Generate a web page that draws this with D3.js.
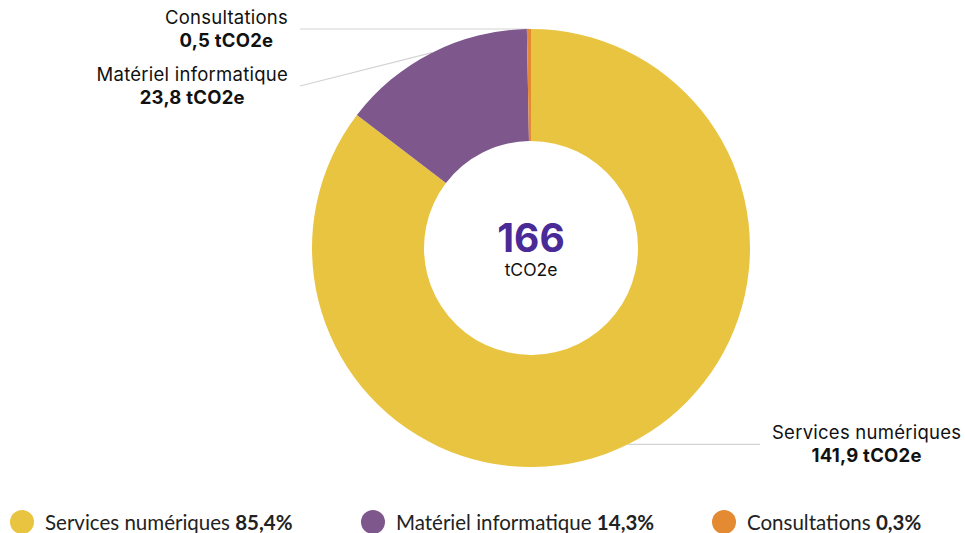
<!DOCTYPE html>
<html>
<head>
<meta charset="utf-8">
<script src="https://cdn.jsdelivr.net/npm/d3@7"></script>
<style>
  html, body { margin: 0; padding: 0; background: #fff; overflow: hidden; }
  svg { display: block; }
</style>
</head>
<body>
<svg id="chart" width="965" height="533"></svg>
<script>
// data
var categories = ["Services numériques", "Matériel informatique", "Consultations"];
var values = [141.9, 23.8, 0.5];
var shares = ["85,4%", "14,3%", "0,3%"];
var colors = ["#E9C441", "#7E578C", "#E38A33"];
var totalLabel = "166";
var unit = "tCO2e";

var svg = d3.select("#chart"),
    cx = 531, cy = 248,
    outerR = 219, innerR = 107;

var data = categories.map(function(c, i) { return {name: c, value: values[i], color: colors[i], share: shares[i]}; });

var pie = d3.pie().sort(null).value(function(d) { return d.value; });
var arc = d3.arc().innerRadius(innerR).outerRadius(outerR);
var arcs = pie(data);

var g = svg.append("g").attr("transform", "translate(" + cx + "," + cy + ")");

var fmt = function(v) { return d3.format(".1f")(v).replace(".", ","); };
var labelFont = "Inter, 'Noto Sans', sans-serif";

// label anchor points on the outer edge, left ones pushed down so they don't overlap
var labels = arcs.map(function(a) {
  var mid = (a.startAngle + a.endAngle) / 2;
  var px = outerR * Math.sin(mid), py = -outerR * Math.cos(mid);
  var right = px > 0;
  return {a: a, px: px, py: py, right: right, lx: right ? 229 : -231, ly: py};
});
var lastLeftY = -Infinity;
labels.filter(function(l) { return !l.right; })
  .sort(function(a, b) { return a.py - b.py; })
  .forEach(function(l) {
    l.ly = Math.max(l.py, lastLeftY + 57);
    lastLeftY = l.ly;
  });

// leader lines go under the slices
g.selectAll("polyline.leader")
  .data(labels)
  .enter().append("polyline")
    .attr("class", "leader")
    .attr("fill", "none")
    .attr("stroke", "#d3d3d3")
    .attr("stroke-width", 1.2)
    .attr("points", function(l) { return l.px + "," + l.py + " " + l.lx + "," + l.ly; });

g.selectAll("path.slice")
  .data(arcs)
  .enter().append("path")
    .attr("class", "slice")
    .attr("d", arc)
    .attr("fill", function(d) { return d.data.color; });

var lab = g.selectAll("g.lab")
  .data(labels)
  .enter().append("g")
    .attr("class", "lab")
    .attr("font-family", labelFont)
    .attr("font-size", 18.5)
    .attr("letter-spacing", 0.25)
    .attr("fill", "#111")
    .attr("text-anchor", "middle");

lab.append("text")
  .attr("y", function(l) { return l.ly - 5; })
  .text(function(l) { return l.a.data.name; });
lab.append("text")
  .attr("y", function(l) { return l.ly + 18; })
  .attr("font-weight", 700)
  .text(function(l) { return fmt(l.a.data.value) + " " + unit; });

lab.each(function(l) {
  var sel = d3.select(this);
  var w = 0;
  sel.selectAll("text").each(function() { w = Math.max(w, this.getComputedTextLength()); });
  var x = l.right ? l.lx + 12 + w / 2 : l.lx - 12 - w / 2;
  sel.selectAll("text").attr("x", x);
});

// centre total
g.append("text")
  .attr("text-anchor", "middle")
  .attr("y", 4)
  .attr("font-family", labelFont)
  .attr("font-weight", 700)
  .attr("font-size", 39)
  .attr("fill", "#4A2A97")
  .text(totalLabel);
g.append("text")
  .attr("text-anchor", "middle")
  .attr("y", 28)
  .attr("font-family", labelFont)
  .attr("font-size", 17.5)
  .attr("fill", "#111")
  .text(unit);

// legend
var lx = d3.scalePoint().domain(categories).range([22, 724]);
var legend = svg.append("g")
    .attr("font-family", "Lato, sans-serif")
    .attr("font-size", 20.5)
    .attr("fill", "#222")
  .selectAll("g")
  .data(data)
  .enter().append("g")
    .attr("transform", function(d) { return "translate(" + lx(d.name) + ",522)"; });

legend.append("circle")
  .attr("r", 12)
  .attr("fill", function(d) { return d.color; });

var lt = legend.append("text")
  .attr("x", 23)
  .attr("y", 8);
lt.append("tspan").text(function(d) { return d.name + " "; });
lt.append("tspan").attr("font-weight", 700).text(function(d) { return d.share; });
</script>
</body>
</html>
